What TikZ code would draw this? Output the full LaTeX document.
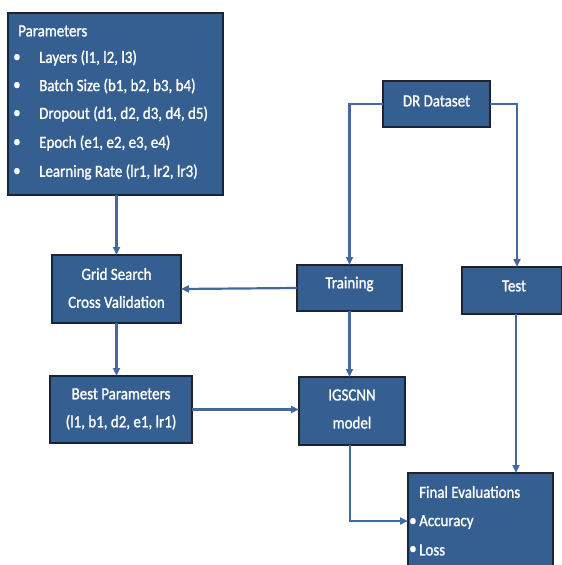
\documentclass[tikz,border=0pt]{standalone}
\usepackage{fontspec}
\setmainfont{Carlito}[FakeStretch=0.88,FakeBold=1.2]
\usetikzlibrary{arrows.meta}
\definecolor{boxfill}{RGB}{54,95,145}
\definecolor{boxedge}{RGB}{28,36,52}
\definecolor{linkcol}{RGB}{66,106,160}
\tikzset{
  box/.style={draw=boxedge, fill=boxfill, line width=1.3pt, inner sep=0pt, outer sep=0pt},
  label/.style={text=white, font=\fontsize{17}{28}\selectfont, align=center, inner sep=0pt},
  ltext/.style={text=white, font=\fontsize{17}{28}\selectfont, anchor=west, inner sep=0pt},
  link/.style={draw=linkcol, line width=2.2pt, -{Triangle[length=8pt,width=7pt]}},
}
\begin{document}
\begin{tikzpicture}[x=1pt,y=-1pt]
\useasboundingbox (0,0) rectangle (562,565);
% Parameters box
\node[box, minimum width=215pt, minimum height=182pt] (par) at (115.5,104) {};
\node[ltext] (pt0) at (18,31) {Parameters};
\node[ltext] (pb1) at (13,58) {\textbullet};
\node[ltext] (pt1) at (39,58) {Layers (l1, l2, l3)};
\node[ltext] (pb2) at (13,86) {\textbullet};
\node[ltext] (pt2) at (39,86) {Batch Size (b1, b2, b3, b4)};
\node[ltext] (pb3) at (13,114) {\textbullet};
\node[ltext] (pt3) at (39,114) {Dropout (d1, d2, d3, d4, d5)};
\node[ltext] (pb4) at (13,143) {\textbullet};
\node[ltext] (pt4) at (39,143) {Epoch (e1, e2, e3, e4)};
\node[ltext] (pb5) at (13,172) {\textbullet};
\node[ltext] (pt5) at (39,172) {Learning Rate (lr1, lr2, lr3)};
% DR Dataset
\node[box, minimum width=107pt, minimum height=46pt] (dr) at (436.5,104) {};
\node[label] (drt) at (436.5,101) {DR Dataset};
% Training
\node[box, minimum width=105pt, minimum height=46pt] (tr) at (349.5,288) {};
\node[label] (trt) at (349.5,284) {Training};
% Test
\node[box, minimum width=100pt, minimum height=47pt] (te) at (512,290.5) {};
\node[label] (tet) at (514,286) {Test};
% Grid Search
\node[box, minimum width=129pt, minimum height=68pt] (gs) at (116.5,289) {};
\node[label] (gst) at (116.5,288) {Grid Search\\Cross Validation};
% Best Parameters
\node[box, minimum width=142pt, minimum height=67pt] (bp) at (121,409.5) {};
\node[label] (bpt) at (121,409) {Best Parameters\\(l1, b1, d2, e1, lr1)};
% IGSCNN
\node[box, minimum width=106pt, minimum height=68pt] (ig) at (352,411) {};
\node[label] (igt) at (352,409) {IGSCNN\\model};
% Final Evaluations
\node[box, minimum width=145pt, minimum height=100pt, anchor=north west] (fe) at (408,473) {};
\node[ltext] (fet) at (419,492) {Final Evaluations};
\node[ltext] (feb1) at (409,522) {\textbullet};
\node[ltext] (fe1) at (419,522) {Accuracy};
\node[ltext] (feb2) at (409,550) {\textbullet};
\node[ltext] (fe2) at (419,550) {Loss};
% connectors
\draw[link] (par.south -| gs.north) -- (gs.north);
\draw[link] (dr.west) -| (tr.north);
\draw[link] (dr.east) -| (te.north -| 517,0);
\draw[link] (tr.west) -- (gs.east);
\draw[link] (gs.south) -- (bp.north -| gs.south);
\draw[link] (bp.east) -- (ig.west |- bp.east);
\draw[link] (tr.south) -- (ig.north -| tr.south);
\draw[link] (ig.south -| 350,0) |- (fe.west |- 0,521);
\draw[link] (te.south -| 516,0) -- (fe.north -| 516,0);
\end{tikzpicture}
\end{document}
